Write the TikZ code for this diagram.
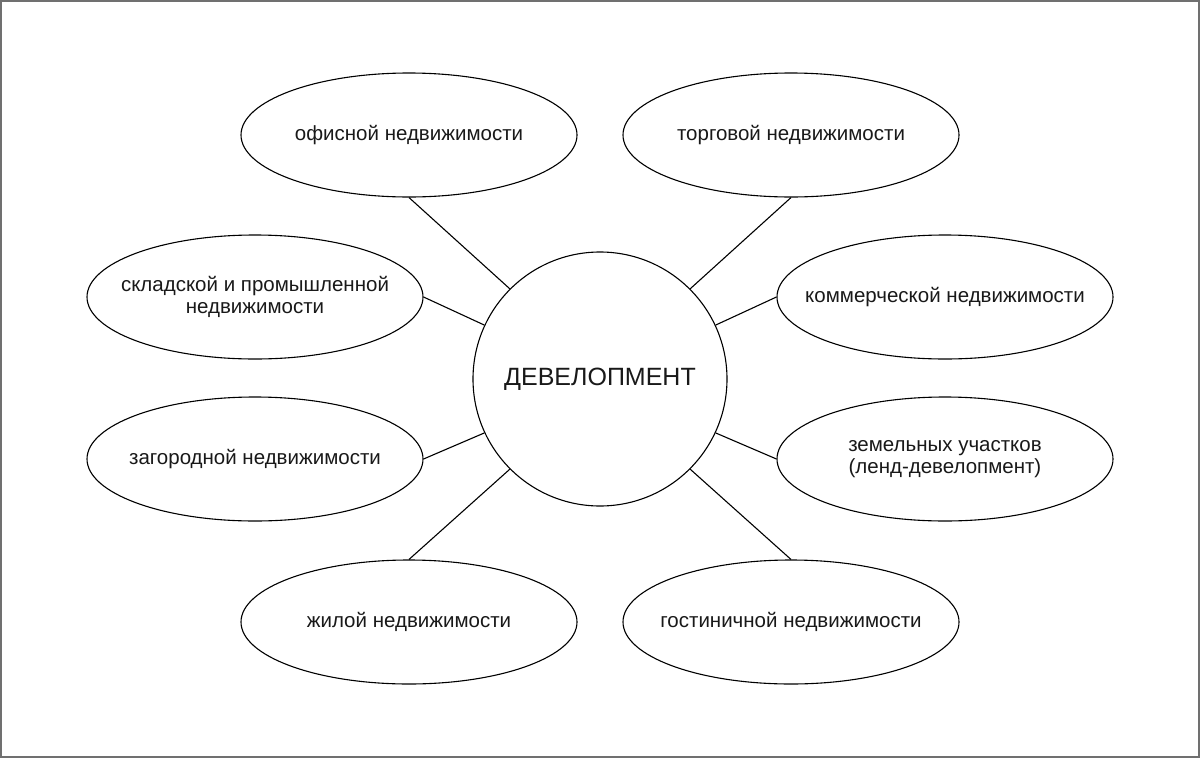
\documentclass[tikz,border=0pt]{standalone}
\usepackage{fontspec}
\setmainfont{Liberation Sans}
\usetikzlibrary{shapes.geometric}
\begin{document}
\begin{tikzpicture}[x=1pt,y=-1pt,
  oval/.style={draw=black, line width=1.1pt, ellipse, minimum width=336pt, minimum height=124pt, inner sep=0pt, fill=white},
  txt/.style={font=\fontsize{20.5}{22.5}\selectfont, align=center, text=black!90},
  hub/.style={draw=black, line width=1.1pt, circle, minimum size=254pt, inner sep=0pt, font=\fontsize{25}{28}\selectfont, text=black!90},
  link/.style={draw=black, line width=1.1pt},
  frame/.style={draw=black!56, line width=2pt}]
\useasboundingbox (0,0) rectangle (1200,758);
\draw[frame] (1,1) rectangle (1199,757);
\node[hub] (c) at (600,379) {ДЕВЕЛОПМЕНТ};
\node[oval, label={[txt]center:офисной недвижимости}] (o) at (409,135) {};
\node[oval, label={[txt]center:торговой недвижимости}] (t) at (791,135) {};
\node[oval, label={[txt]center:{складской и промышленной\\недвижимости}}] (s) at (255,297) {};
\node[oval, label={[txt]center:коммерческой недвижимости}] (k) at (945,297) {};
\node[oval, label={[txt]center:загородной недвижимости}] (z) at (255,459) {};
\node[oval, label={[txt]center:{земельных участков\\(ленд-девелопмент)}}] (ze) at (945,459) {};
\node[oval, label={[txt]center:жилой недвижимости}] (zh) at (409,622) {};
\node[oval, label={[txt]center:гостиничной недвижимости}] (g) at (791,622) {};
\draw[link] (o.south) -- (c.135);
\draw[link] (t.south) -- (c.45);
\draw[link] (s.east) -- (c.155);
\draw[link] (k.west) -- (c.25);
\draw[link] (z.east) -- (c.205);
\draw[link] (ze.west) -- (c.335);
\draw[link] (zh.north) -- (c.225);
\draw[link] (g.north) -- (c.315);
\end{tikzpicture}
\end{document}
